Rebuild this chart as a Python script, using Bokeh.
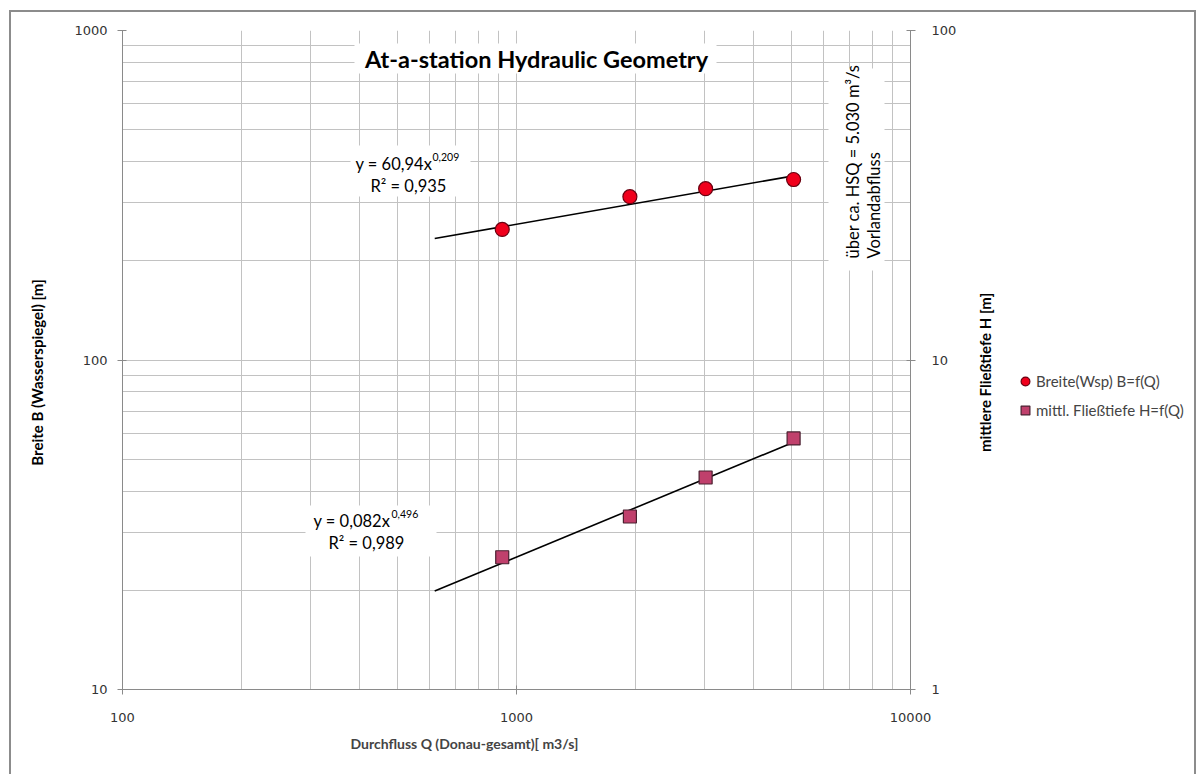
import math
from bokeh.plotting import figure
from bokeh.layouts import row
from bokeh.models import (LogAxis, Range1d, LogScale, FixedTicker, BasicTickFormatter,
                          Label, BoxAnnotation, Legend, LegendItem, Title)
from bokeh.embed import file_html
from bokeh.resources import INLINE

# ---------------- data ----------------
Q = [920, 1940, 3020, 5050]                 # Durchfluss [m3/s]
B = [249, 313, 331, 353]                    # Breite (Wsp) [m]
H = [2.52, 3.35, 4.40, 5.78]                # mittl. Fliesstiefe [m]
fit_B = (60.94, 0.209)                      # y = a * x^b
fit_H = (0.082, 0.496)
trend_Q = [620, 5050]                       # trendline extent
x_ticks = [100, 1000, 10000]
y_left_ticks = [10, 100, 1000]
y_right_ticks = [1, 10, 100]

series_B = "Breite(Wsp) B=f(Q)"
series_H = "mittl. Fließtiefe H=f(Q)"

# ---------------- layout (page px) ----------------
OX, OY = 11, 12                      # page origin of the drawing (outline sits outside)
XR = 1194                            # right edge of drawing
XL = 66                              # split between left title strip and chart
XS = 965                             # split between chart and legend panel
Hc = 774 - OY
FL, FR, FT, FB = 122, 910, 30, 689   # frame edges


def sx(cx):
    return cx - FL


def sy(cy):
    return FB - cy


def minors(ticks):
    out = []
    for t in ticks[:-1]:
        out += [t * k for k in range(2, 10)]
    return out


p = figure(width=XS - XL, height=Hc, x_axis_type="log", y_axis_type="log",
           x_range=Range1d(100, 10000), y_range=Range1d(10, 1000),
           output_backend="svg", toolbar_location=None,
           min_border_left=FL - XL, min_border_right=XS - FR,
           min_border_top=FT - OY, min_border_bottom=(OY + Hc) - FB,
           background_fill_color="white", border_fill_color="white")
p.outline_line_color = None
p.extra_y_ranges = {"right": Range1d(1, 100)}
p.extra_y_scales = {"right": LogScale()}

grid_col = "#c2c2c2"
axis_col = "#8a8a8a"
tick_font = "DejaVu Sans"
FONT = "Lato"

xa = p.xaxis[0]
xa.ticker = FixedTicker(ticks=x_ticks, minor_ticks=minors(x_ticks))
ya = p.yaxis[0]
ya.ticker = FixedTicker(ticks=y_left_ticks, minor_ticks=minors(y_left_ticks))
ra = LogAxis(y_range_name="right",
             ticker=FixedTicker(ticks=y_right_ticks, minor_ticks=minors(y_right_ticks)))
p.add_layout(ra, "right")

for ax in (xa, ya, ra):
    ax.formatter = BasicTickFormatter(use_scientific=False)
    ax.axis_line_color = axis_col
    ax.major_tick_line_color = axis_col
    ax.major_tick_out = 5
    ax.major_tick_in = 4
    ax.minor_tick_out = 0
    ax.minor_tick_in = 0
    ax.major_label_text_font = tick_font
    ax.major_label_text_font_size = "13px"
    ax.major_label_text_color = "#333333"
ya.major_label_standoff = 10
xa.major_label_standoff = 18
ra.major_label_standoff = 16

for g in (p.xgrid[0], p.ygrid[0]):
    g.grid_line_color = grid_col
    g.minor_grid_line_color = grid_col
    g.grid_line_width = 1
    g.minor_grid_line_width = 1

# ---------------- trendlines ----------------
tB = [fit_B[0] * q ** fit_B[1] for q in trend_Q]
tH = [fit_H[0] * q ** fit_H[1] for q in trend_Q]
p.line(trend_Q, tB, line_color="black", line_width=1.6)
p.line(trend_Q, tH, line_color="black", line_width=1.6, y_range_name="right")

# ---------------- markers ----------------
C_FILL, C_LINE = "#f0001c", "#6a0010"
S_FILL, S_LINE = "#c0406c", "#4a2030"
p.scatter(Q, B, marker="circle", size=14, fill_color=C_FILL,
          line_color=C_LINE, line_width=1.2)
p.scatter(Q, H, marker="square", size=13, fill_color=S_FILL,
          line_color=S_LINE, line_width=1.2, y_range_name="right")


# ---------------- text in the frame ----------------
def box(l, r, t, b):
    p.add_layout(BoxAnnotation(left=sx(l), right=sx(r), top=sy(t), bottom=sy(b),
                               left_units="screen", right_units="screen",
                               top_units="screen", bottom_units="screen",
                               fill_color="white", fill_alpha=1, line_color=None))


def lab(fig, text, x, y, size="16px", align="left", style="normal", angle=0.0):
    fig.add_layout(Label(x=x, y=y, x_units="screen", y_units="screen",
                         text=text, text_font=FONT, text_font_size=size,
                         text_font_style=style, text_align=align,
                         text_baseline="middle", angle=angle, text_color="black"))


box(354, 716, 43, 73)
box(350, 470, 145, 196)
box(305, 436, 505, 556)
box(828, 884, 68, 270)

lab(p, "At-a-station Hydraulic Geometry", sx(536), sy(58), size="23.5px",
    align="center", style="bold")

lab(p, "y = 60,94x", sx(355), sy(163), size="16.5px")
lab(p, "0,209", sx(432), sy(156), size="10.5px")
lab(p, "R² = 0,935", sx(370), sy(185), size="16.5px")
lab(p, "y = 0,082x", sx(313), sy(520), size="16.5px")
lab(p, "0,496", sx(391), sy(513), size="10.5px")
lab(p, "R² = 0,989", sx(328), sy(542), size="16.5px")

lab(p, "über ca. HSQ = 5.030 m³/s", sx(852), sy(258), size="16.5px", angle=math.pi / 2)
lab(p, "Vorlandabfluss", sx(873), sy(258), size="16.5px", angle=math.pi / 2)

# ---------------- x axis title (below panel) ----------------
t_below = Title(text="Durchfluss Q  (Donau-gesamt)[ m3/s]", align="left", offset=228,
                text_font=FONT, text_font_size="14px", text_font_style="bold",
                standoff=17)
p.add_layout(t_below, "below")


def side_fig(x0, x1):
    f = figure(width=x1 - x0, height=Hc, x_range=Range1d(0, 1), y_range=Range1d(0, 1),
               output_backend="svg", toolbar_location=None,
               x_axis_location=None, y_axis_location=None, min_border=0,
               background_fill_color="white", border_fill_color="white")
    f.outline_line_color = None
    f.grid.visible = False
    return f


# ---------------- left strip: y axis title ----------------
p0 = side_fig(OX, XL)
lab(p0, "Breite B (Wasserspiegel) [m]", 36 - OX, sy(372), size="15px",
    align="center", style="bold", angle=math.pi / 2)

# ---------------- right panel: right axis title + legend ----------------
p2 = side_fig(XS, XR)


def sx2(cx):
    return cx - XS


lab(p2, "mittlere Fließtiefe H [m]", sx2(984), sy(372), size="15px",
    align="center", style="bold", angle=math.pi / 2)

# legend keys: same series, outside this panel's (0..1) view, so only the keys show
kB = p2.scatter(Q, B, marker="circle", size=14, fill_color=C_FILL,
                line_color=C_LINE, line_width=1.2)
kH = p2.scatter(Q, H, marker="square", size=13, fill_color=S_FILL,
                line_color=S_LINE, line_width=1.2)
legend = Legend(items=[LegendItem(label=series_B, renderers=[kB]),
                       LegendItem(label=series_H, renderers=[kH])],
                location=(sx2(1014), sy(421)))
legend.label_text_font = FONT
legend.label_text_font_size = "15px"
legend.glyph_width = 22
legend.glyph_height = 22
legend.label_height = 22
legend.label_standoff = 0
legend.spacing = 7
legend.padding = 0
legend.margin = 0
legend.border_line_color = None
legend.background_fill_alpha = 0
p2.add_layout(legend)

layout = row(p0, p, p2, spacing=0)
layout.margin = (OY, 0, 0, OX)
layout.styles = {"outline": "2px solid #8c8c8c"}

open("out.html", "w").write(file_html(layout, INLINE))
